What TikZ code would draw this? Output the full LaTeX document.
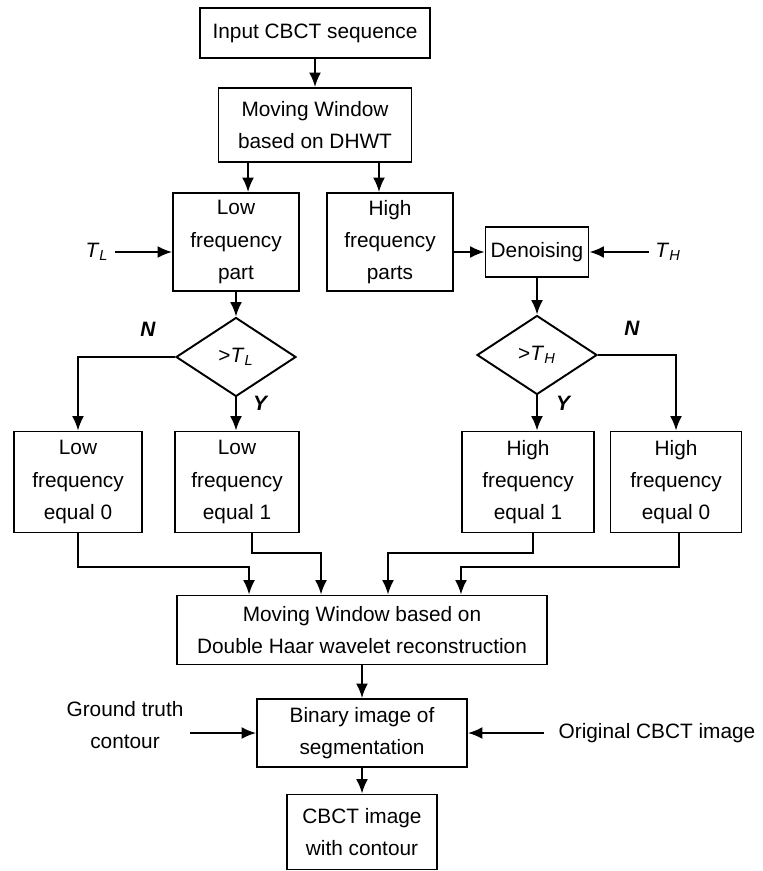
\documentclass[tikz,border=0pt]{standalone}
\usepackage{fontspec}
\setmainfont{Liberation Sans}
\usetikzlibrary{shapes.geometric,arrows.meta}

\begin{document}
\begin{tikzpicture}[x=0.02cm, y=-0.02cm, line width=1.1pt,
    >={Latex[length=2.9mm,width=2.4mm]},
    font=\fontsize{11.85}{18.4}\selectfont,
    box/.style={draw, align=center, inner sep=0pt},
    decision/.style={draw, diamond, inner sep=0pt, minimum width=2.4cm, minimum height=1.58cm},
    yn/.style={font=\fontsize{11.85}{18.4}\selectfont\bfseries\itshape}]
            \useasboundingbox (0,0) rectangle (762,871);

            % Boxes
            \node[box, minimum width=4.6cm, minimum height=1cm] (in) at (315,33) {Input CBCT sequence};
            \node[box, minimum width=3.86cm, minimum height=1.48cm] (mw) at (315,125) {Moving Window\\based on DHWT};
            \node[box, minimum width=2.52cm, minimum height=1.96cm] (low) at (236,242) {Low\\frequency\\part};
            \node[box, minimum width=2.52cm, minimum height=1.96cm] (high) at (390,242) {High\\frequency\\parts};
            \node[box, minimum width=2.06cm, minimum height=1cm] (den) at (537,252) {Denoising};
            \node[box, minimum width=2.56cm, minimum height=2.02cm] (l0) at (78,482) {Low\\frequency\\equal 0};
            \node[box, minimum width=2.48cm, minimum height=2.02cm] (l1) at (237,482) {Low\\frequency\\equal 1};
            \node[box, minimum width=2.64cm, minimum height=2.02cm] (h1) at (528,482) {High\\frequency\\equal 1};
            \node[box, minimum width=2.62cm, minimum height=2.02cm] (h0) at (676,482) {High\\frequency\\equal 0};
            \node[box, minimum width=7.4cm, minimum height=1.38cm] (rec) at (362,630) {Moving Window based on\\Double Haar wavelet reconstruction};
            \node[box, minimum width=4.2cm, minimum height=1.36cm] (bin) at (362,733) {Binary image of\\segmentation};
            \node[box, minimum width=3cm, minimum height=1.5cm] (out) at (362,832) {CBCT image\\with contour};

            % Thresholds
            \node[decision] (dl) at (236,357) {>\textit{T}\textsubscript{\textit{L}}};
            \node[decision] (dh) at (537,355) {>\textit{T}\textsubscript{\textit{H}}};
            \node (tl) at (97,252) {\textit{T}\textsubscript{\textit{L}}};
            \node (th) at (668,252) {\textit{T}\textsubscript{\textit{H}}};
            \node[yn] (nl) at (148,329) {N};
            \node[yn] (yl) at (260,403) {Y};
            \node[yn] (nh) at (632,328) {N};
            \node[yn] (yh) at (563,403) {Y};

            % Side inputs
            \node[align=center] (gt) at (125,725) {Ground truth\\contour};
            \node (orig) at (657,733) {Original CBCT image};

            % Arrows
            \draw[->] (in) -- (mw);
            \draw[->] ([xshift=-1.34cm]mw.south) -- ([xshift=-1.34cm]mw.south |- low.north);
            \draw[->] ([xshift=1.28cm]mw.south) -- ([xshift=1.28cm]mw.south |- high.north);
            \draw[->] (tl) -- (tl -| low.west);
            \draw[->] (high.east |- den) -- (den.west);
            \draw[->] (th) -- (th -| den.east);
            \draw[->] (low) -- (dl);
            \draw[->] (den) -- (dh);
            \draw[->] (dl.west) -| (l0.north);
            \draw[->] (dl.south) -- (dl.south |- l1.north);
            \draw[->] (dh.east) -| (h0.north);
            \draw[->] (dh.south) -- (dh.south |- h1.north);

            % Into the reconstruction
            \draw[->] (l0.south) |- ([xshift=-2.26cm,yshift=0.56cm]rec.north) -- ([xshift=-2.26cm]rec.north);
            \draw[->] ([xshift=0.3cm]l1.south) |- ([xshift=-0.82cm,yshift=0.84cm]rec.north) -- ([xshift=-0.82cm]rec.north);
            \draw[->] ([xshift=0.1cm]h1.south) |- ([xshift=0.52cm,yshift=0.84cm]rec.north) -- ([xshift=0.52cm]rec.north);
            \draw[->] ([xshift=0.06cm]h0.south) |- ([xshift=1.98cm,yshift=0.56cm]rec.north) -- ([xshift=1.98cm]rec.north);
            \draw[->] (rec) -- (bin);
            \draw[->] (bin) -- (out);
            \draw[->] (gt.east |- bin) -- (bin.west);
            \draw[->] ([xshift=-0.16cm]orig.west) -- (bin.east);
\end{tikzpicture}
\end{document}
